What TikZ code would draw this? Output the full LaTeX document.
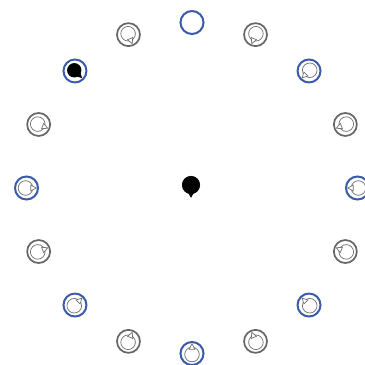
\documentclass[tikz,border=0pt]{standalone}
\definecolor{ringblue}{HTML}{3A5BAA}
\definecolor{ringgray}{HTML}{666666}
\definecolor{pingray}{HTML}{707070}
\tikzset{
  bluering/.style={circle,draw=ringblue,line width=2pt,minimum size=23pt,inner sep=0pt},
  grayring/.style={circle,draw=ringgray,line width=1.7pt,minimum size=23pt,inner sep=0pt},
  pinline/.style={draw=pingray,line width=0.7pt,fill=white},
  pinfill/.style={draw=black,fill=black,line width=0.7pt},
}
\newcommand{\drawpin}[4]{%
  \begin{scope}[shift={#1},rotate=#2]
    \path[#4] (-1pt,0pt) circle (#3);
    \path[#4] ($(#3,0pt)+(-3pt,-2.8pt)$) -- ($(#3,0pt)+(2.5pt,0pt)$) -- ($(#3,0pt)+(-3pt,2.8pt)$) -- cycle;
  \end{scope}}
\usetikzlibrary{calc}
\begin{document}
\begin{tikzpicture}[x=1pt,y=1pt]
  \useasboundingbox (0,0) rectangle (365,365);
  \coordinate (c) at (192,177);
  \foreach \i in {0,...,15} {
    \pgfmathsetmacro{\a}{\i*22.5}
    \pgfmathtruncatemacro{\isblue}{mod(\i,2)==0 ? 1 : 0}
    \ifnum\isblue=1
      \node[bluering] (r\i) at ($(c)+(\a:165.5pt)$) {};
    \else
      \node[grayring] (r\i) at ($(c)+(\a:166pt)$) {};
    \fi
  }
  % inner pins, pointing toward the centre
  \foreach \i in {0,1,2,3,5,7,8,9,10,11,12,13,14,15} {
    \pgfmathsetmacro{\a}{\i*22.5}
    \pgfmathsetmacro{\d}{\a+180}
    \drawpin{(r\i.center)}{\d}{7.3pt}{pinline}
  }
  % black pin at 135 degrees
  \drawpin{(r6.center)}{-45}{6.8pt}{pinfill}
  % central pin
  \coordinate (cp) at (191,179);
  \drawpin{(cp)}{-90}{8.7pt}{pinfill}
\end{tikzpicture}
\end{document}
